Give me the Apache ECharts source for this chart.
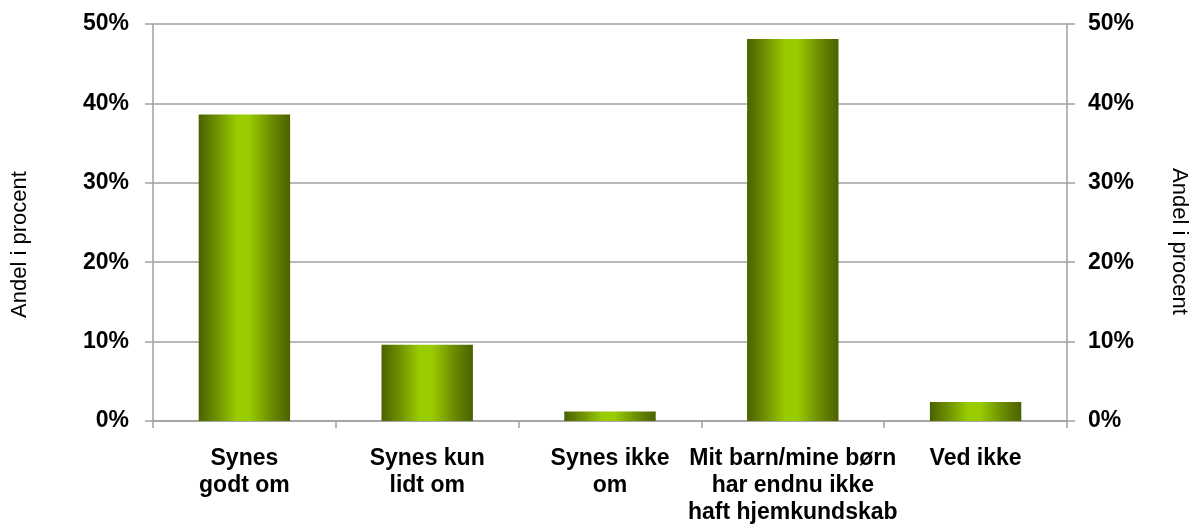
<!DOCTYPE html>
<html>
<head>
<meta charset="utf-8">
<title>Andel i procent</title>
<script src="https://cdn.jsdelivr.net/npm/echarts@6/dist/echarts.min.js"></script>
<style>
  html, body { margin: 0; padding: 0; background: #fff; }
  #chart { width: 1192px; height: 524px; }
</style>
</head>
<body>
<div id="chart"></div>
<script>
// Answer categories (x axis)
const categories = [
  'Synes\ngodt om',
  'Synes kun\nlidt om',
  'Synes ikke\nom',
  'Mit barn/mine børn\nhar endnu ikke\nhaft hjemkundskab',
  'Ved ikke'
];
// Share of respondents, in percent
const shares = [38.6, 9.6, 1.2, 48.1, 2.4];
// Value axis range and tick step (percent)
const axisMin = 0;
const axisMax = 50;
const axisStep = 10;

const chart = echarts.init(document.getElementById('chart'));

const barFill = new echarts.graphic.LinearGradient(0, 0, 1, 0, [
  { offset: 0, color: '#4a6200' },
  { offset: 0.2, color: '#6f9100' },
  { offset: 0.42, color: '#99cc00' },
  { offset: 0.55, color: '#99cc00' },
  { offset: 0.8, color: '#6a8a00' },
  { offset: 1, color: '#4a6200' }
]);

const tickFont = {
  fontFamily: 'Liberation Sans, Arial, sans-serif',
  fontWeight: 'bold',
  fontSize: 23,
  color: '#000'
};

const nameFont = {
  fontFamily: 'Liberation Sans, Arial, sans-serif',
  fontSize: 22,
  color: '#000'
};

const valueAxisBase = {
  type: 'value',
  min: axisMin,
  max: axisMax,
  interval: axisStep,
  name: 'Andel i procent',
  nameLocation: 'middle',
  axisLine: { show: true, lineStyle: { color: '#a0a0a0', width: 1.5 } },
  axisTick: { show: true, length: 8, lineStyle: { color: '#a0a0a0', width: 1.5 } },
  axisLabel: Object.assign({ formatter: '{value}%' }, tickFont)
};

chart.setOption({
  animation: false,
  grid: {
    left: 153, right: 125, top: 24, bottom: 103,
    containLabel: false,
    outerBoundsMode: 'none'
  },
  xAxis: {
    type: 'category',
    data: categories,
    axisLine: { show: true, lineStyle: { color: '#a0a0a0', width: 1.5 } },
    axisTick: { show: true, length: 7, lineStyle: { color: '#a0a0a0', width: 1.5 } },
    axisLabel: Object.assign({ interval: 0, margin: 24, lineHeight: 27 }, tickFont)
  },
  yAxis: [
    Object.assign({}, valueAxisBase, {
      position: 'left',
      nameRotate: 90,
      nameGap: 122,
      // sits a little below the plot's vertical middle
      nameTextStyle: Object.assign({ padding: [0, 44, 0, 0] }, nameFont),
      axisLabel: Object.assign({}, valueAxisBase.axisLabel, { margin: 24 }),
      splitLine: { show: true, lineStyle: { color: '#a0a0a0', width: 1.5 } }
    }),
    Object.assign({}, valueAxisBase, {
      position: 'right',
      nameRotate: -90,
      nameGap: 101,
      nameTextStyle: Object.assign({ padding: [0, 0, 0, 38] }, nameFont),
      axisLabel: Object.assign({}, valueAxisBase.axisLabel, { margin: 21 }),
      splitLine: { show: false }
    })
  ],
  series: [{
    type: 'bar',
    data: shares,
    barWidth: '50%',
    yAxisIndex: 0,
    itemStyle: { color: barFill }
  }]
});
</script>
</body>
</html>
